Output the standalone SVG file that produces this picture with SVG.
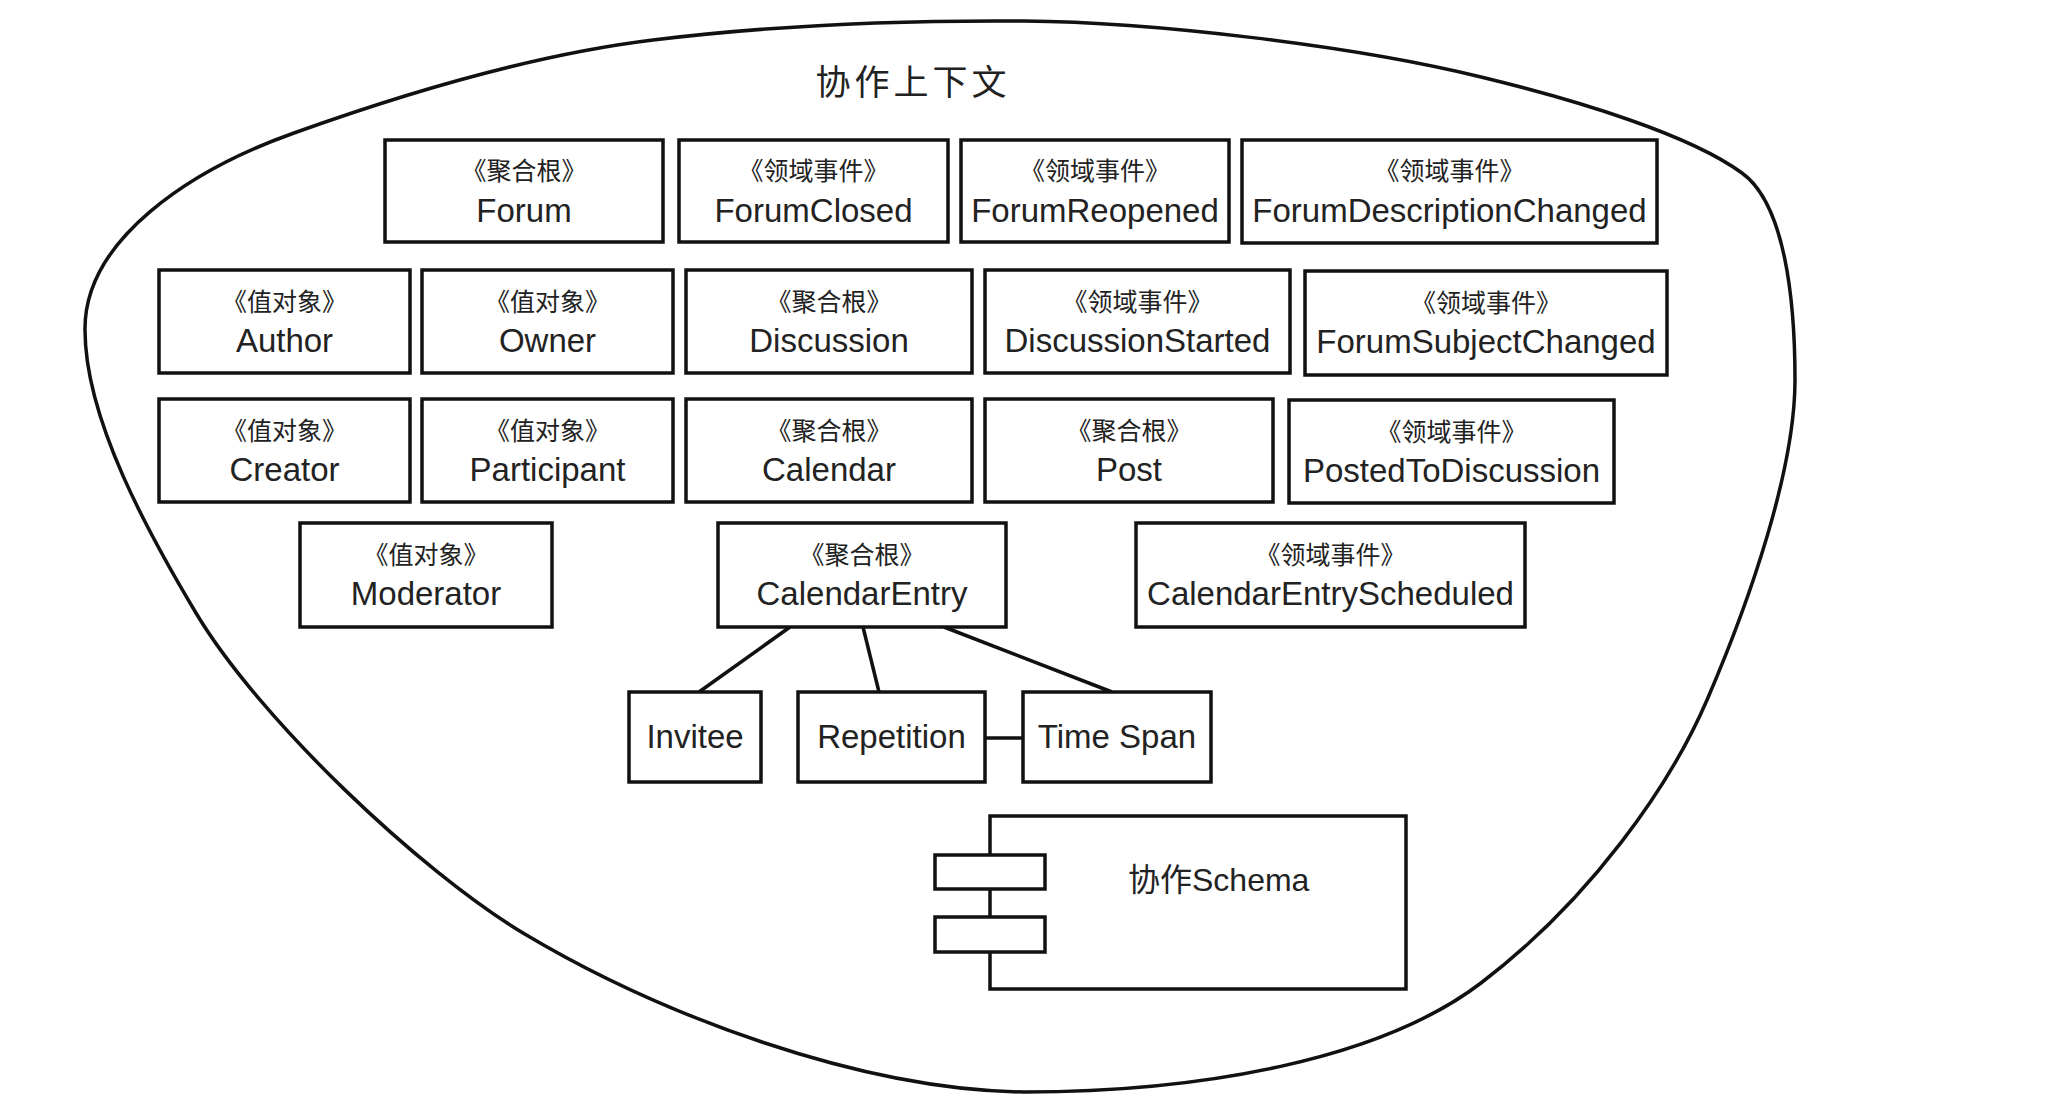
<svg xmlns="http://www.w3.org/2000/svg" width="2048" height="1096" viewBox="0 0 2048 1096">
<style>
.b{fill:#fff;stroke:#111;stroke-width:3.5}
.st{font-family:"Noto Sans CJK SC","Liberation Sans",sans-serif;font-size:25px;fill:#222;text-anchor:middle}
.nm{font-family:"Liberation Sans","Noto Sans CJK SC",sans-serif;font-size:33px;fill:#222;text-anchor:middle}
.c{stroke:#111;stroke-width:3.5;fill:none}
</style>
<rect width="2048" height="1096" fill="#fff"/>
<g id="context">
<path class="c" d="M85,330 C84,240 190,170 294,133 C400,95 530,55 653,40 C776,25 900,20 1024,21 C1150,22 1350,45 1481,77 C1580,101 1690,135 1742,173 C1785,204 1795,300 1795,380 C1795,470 1750,600 1707,700 C1670,786 1590,900 1481,983 C1380,1060 1200,1092 1024,1092 C860,1090 660,1015 523,933 C420,871 260,720 196,613 C150,536 85,420 85,330 Z" stroke-width="3"/>
<text x="913" y="95" font-family="Noto Sans CJK SC,sans-serif" font-size="35" letter-spacing="4" text-anchor="middle" fill="#222">协作上下文</text>
</g>
<g id="connectors">
<line class="c" x1="790" y1="627" x2="699" y2="692"/>
<line class="c" x1="863" y1="627" x2="879" y2="692"/>
<line class="c" x1="944" y1="627" x2="1112" y2="692"/>
<line class="c" x1="985" y1="738" x2="1023" y2="738"/>
</g>
<g id="forum"><rect class="b" x="385" y="140" width="278" height="102"/><text class="st" x="524" y="180">《聚合根》</text><text class="nm" x="524" y="222">Forum</text></g>
<g id="forumClosed"><rect class="b" x="679" y="140" width="269" height="102"/><text class="st" x="813.5" y="180">《领域事件》</text><text class="nm" x="813.5" y="222">ForumClosed</text></g>
<g id="forumReopened"><rect class="b" x="961" y="140" width="268" height="102"/><text class="st" x="1095" y="180">《领域事件》</text><text class="nm" x="1095" y="222">ForumReopened</text></g>
<g id="forumDescriptionChanged"><rect class="b" x="1242" y="140" width="415" height="103"/><text class="st" x="1449.5" y="180">《领域事件》</text><text class="nm" x="1449.5" y="222">ForumDescriptionChanged</text></g>
<g id="author"><rect class="b" x="159" y="270" width="251" height="103"/><text class="st" x="284.5" y="311">《值对象》</text><text class="nm" x="284.5" y="352">Author</text></g>
<g id="owner"><rect class="b" x="422" y="270" width="251" height="103"/><text class="st" x="547.5" y="311">《值对象》</text><text class="nm" x="547.5" y="352">Owner</text></g>
<g id="discussion"><rect class="b" x="686" y="270" width="286" height="103"/><text class="st" x="829" y="311">《聚合根》</text><text class="nm" x="829" y="352">Discussion</text></g>
<g id="discussionStarted"><rect class="b" x="985" y="270" width="305" height="103"/><text class="st" x="1137.5" y="311">《领域事件》</text><text class="nm" x="1137.5" y="352">DiscussionStarted</text></g>
<g id="forumSubjectChanged"><rect class="b" x="1305" y="271" width="362" height="104"/><text class="st" x="1486" y="312">《领域事件》</text><text class="nm" x="1486" y="353">ForumSubjectChanged</text></g>
<g id="creator"><rect class="b" x="159" y="399" width="251" height="103"/><text class="st" x="284.5" y="440">《值对象》</text><text class="nm" x="284.5" y="481">Creator</text></g>
<g id="participant"><rect class="b" x="422" y="399" width="251" height="103"/><text class="st" x="547.5" y="440">《值对象》</text><text class="nm" x="547.5" y="481">Participant</text></g>
<g id="calendar"><rect class="b" x="686" y="399" width="286" height="103"/><text class="st" x="829" y="440">《聚合根》</text><text class="nm" x="829" y="481">Calendar</text></g>
<g id="post"><rect class="b" x="985" y="399" width="288" height="103"/><text class="st" x="1129" y="440">《聚合根》</text><text class="nm" x="1129" y="481">Post</text></g>
<g id="postedToDiscussion"><rect class="b" x="1289" y="400" width="325" height="103"/><text class="st" x="1451.5" y="441">《领域事件》</text><text class="nm" x="1451.5" y="482">PostedToDiscussion</text></g>
<g id="moderator"><rect class="b" x="300" y="523" width="252" height="104"/><text class="st" x="426" y="564">《值对象》</text><text class="nm" x="426" y="605">Moderator</text></g>
<g id="calendarEntry"><rect class="b" x="718" y="523" width="288" height="104"/><text class="st" x="862" y="564">《聚合根》</text><text class="nm" x="862" y="605">CalendarEntry</text></g>
<g id="calendarEntryScheduled"><rect class="b" x="1136" y="523" width="389" height="104"/><text class="st" x="1330.5" y="564">《领域事件》</text><text class="nm" x="1330.5" y="605">CalendarEntryScheduled</text></g>
<g id="invitee"><rect class="b" x="629" y="692" width="132" height="90"/><text class="nm" x="695" y="748" font-size="32">Invitee</text></g>
<g id="repetition"><rect class="b" x="798" y="692" width="187" height="90"/><text class="nm" x="891.5" y="748" font-size="32">Repetition</text></g>
<g id="timeSpan"><rect class="b" x="1023" y="692" width="188" height="90"/><text class="nm" x="1117" y="748" font-size="32">Time Span</text></g>
<g id="schema">
<rect class="b" x="990" y="816" width="416" height="173"/>
<rect class="b" x="935" y="855" width="110" height="34"/>
<rect class="b" x="935" y="917" width="110" height="35"/>
<text x="1128" y="891" font-family="Liberation Sans,Noto Sans CJK SC,sans-serif" font-size="32" fill="#222">协作Schema</text>
</g>
</svg>
